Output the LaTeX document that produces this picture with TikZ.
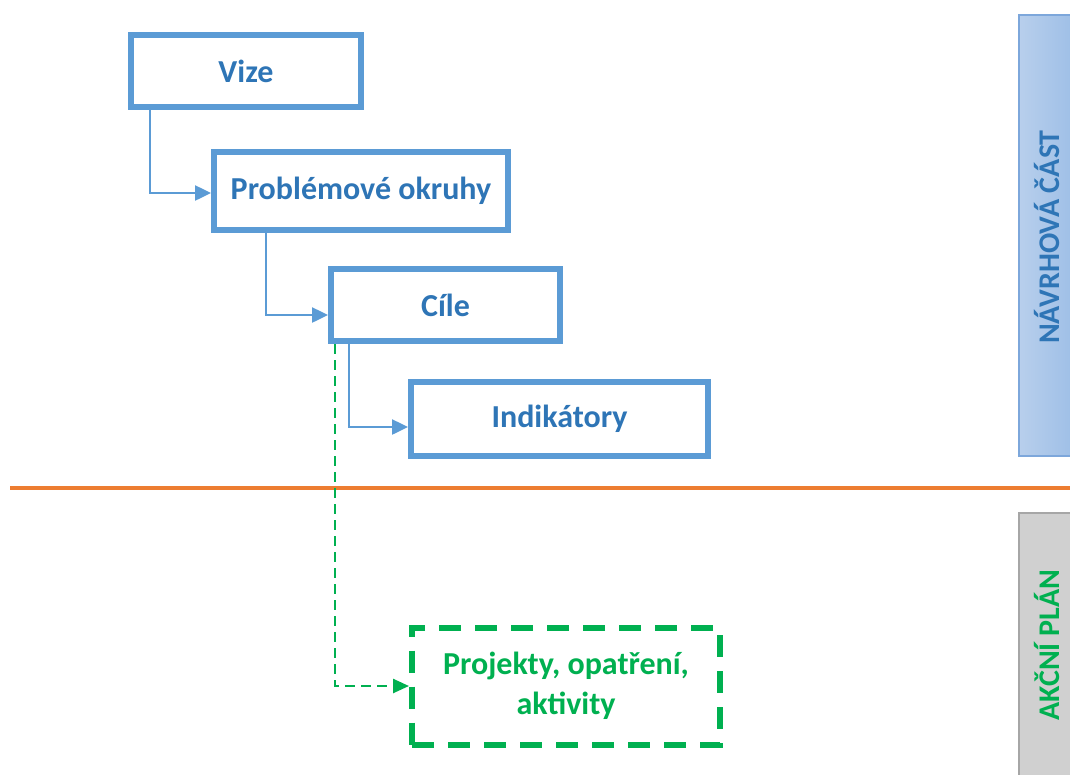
\documentclass[tikz,border=0pt]{standalone}
\usepackage{fontspec}
\setmainfont{Carlito}
\usepackage{xcolor}
\usepackage{tikz}
\usetikzlibrary{positioning,arrows.meta}

\definecolor{ramec}{RGB}{91,155,213}
\definecolor{modra}{RGB}{46,117,182}
\definecolor{zelena}{RGB}{0,176,80}
\definecolor{oranz}{RGB}{237,125,49}
\definecolor{navL}{RGB}{184,207,236}
\definecolor{navR}{RGB}{155,189,230}
\definecolor{navRam}{RGB}{125,167,219}
\definecolor{akSeda}{RGB}{208,208,208}
\definecolor{akRam}{RGB}{166,166,166}

\begin{document}
\begin{tikzpicture}[x=1pt,y=-1pt,
  blok/.style={draw=ramec,line width=6pt,fill=white,text=modra,
    font=\fontsize{32}{38}\selectfont\bfseries,inner sep=0pt},
  akce/.style={draw=zelena,line width=6pt,dash pattern=on 22pt off 14pt,
    text=zelena,align=center,font=\fontsize{32}{40}\selectfont\bfseries,inner sep=0pt},
  spoj/.style={draw=ramec,line width=2.5pt,-{Triangle[length=16pt,width=15pt]}},
  spojAkce/.style={draw=zelena,line width=2.5pt,dash pattern=on 10pt off 6pt,
    -{Triangle[length=16pt,width=14pt]}}]

\useasboundingbox (0,0) rectangle (1070,774);
\clip (0,0) rectangle (1070,774);

% side bars
\draw[navRam,line width=2pt,left color=navL,right color=navR] (1019,15) rectangle (1080,456);
\node[rotate=90,text=modra,font=\fontsize{30}{36}\selectfont\bfseries] (navrh) at (1047,237) {NÁVRHOVÁ ČÁST};
\draw[akRam,line width=2pt,fill=akSeda] (1019,513) rectangle (1080,790);
\node[rotate=90,text=zelena,font=\fontsize{30}{36}\selectfont\bfseries] (akcni) at (1047,645) {AKČNÍ PLÁN};

% divider
\draw[oranz,line width=4pt] (10,488) -- (1070,488);

% boxes
\node[blok,minimum width=230pt,minimum height=72pt] (vize) at (246,71) {Vize};
\node[blok,minimum width=294pt,minimum height=78pt] (probl) at (361,191) {Problémové okruhy};
\node[blok,minimum width=229pt,minimum height=72pt] (cile) at (445.5,305) {Cíle};
\node[blok,minimum width=297pt,minimum height=74pt] (indik) at (559.5,419) {Indikátory};
\node[akce,minimum width=308pt,minimum height=117pt] (proj) at (566,686) {Projekty, opatření,\\aktivity};

% connectors
\draw[spoj] ([xshift=22pt]vize.south west) |- ([yshift=-2pt]probl.west);
\draw[spoj] ([xshift=55pt]probl.south west) |- ([yshift=-10pt]cile.west);
\draw[spoj] ([xshift=21pt]cile.south west) |- ([yshift=-8pt]indik.west);
\draw[spojAkce] ([xshift=7pt]cile.south west) |- (proj.west);

\end{tikzpicture}
\end{document}
